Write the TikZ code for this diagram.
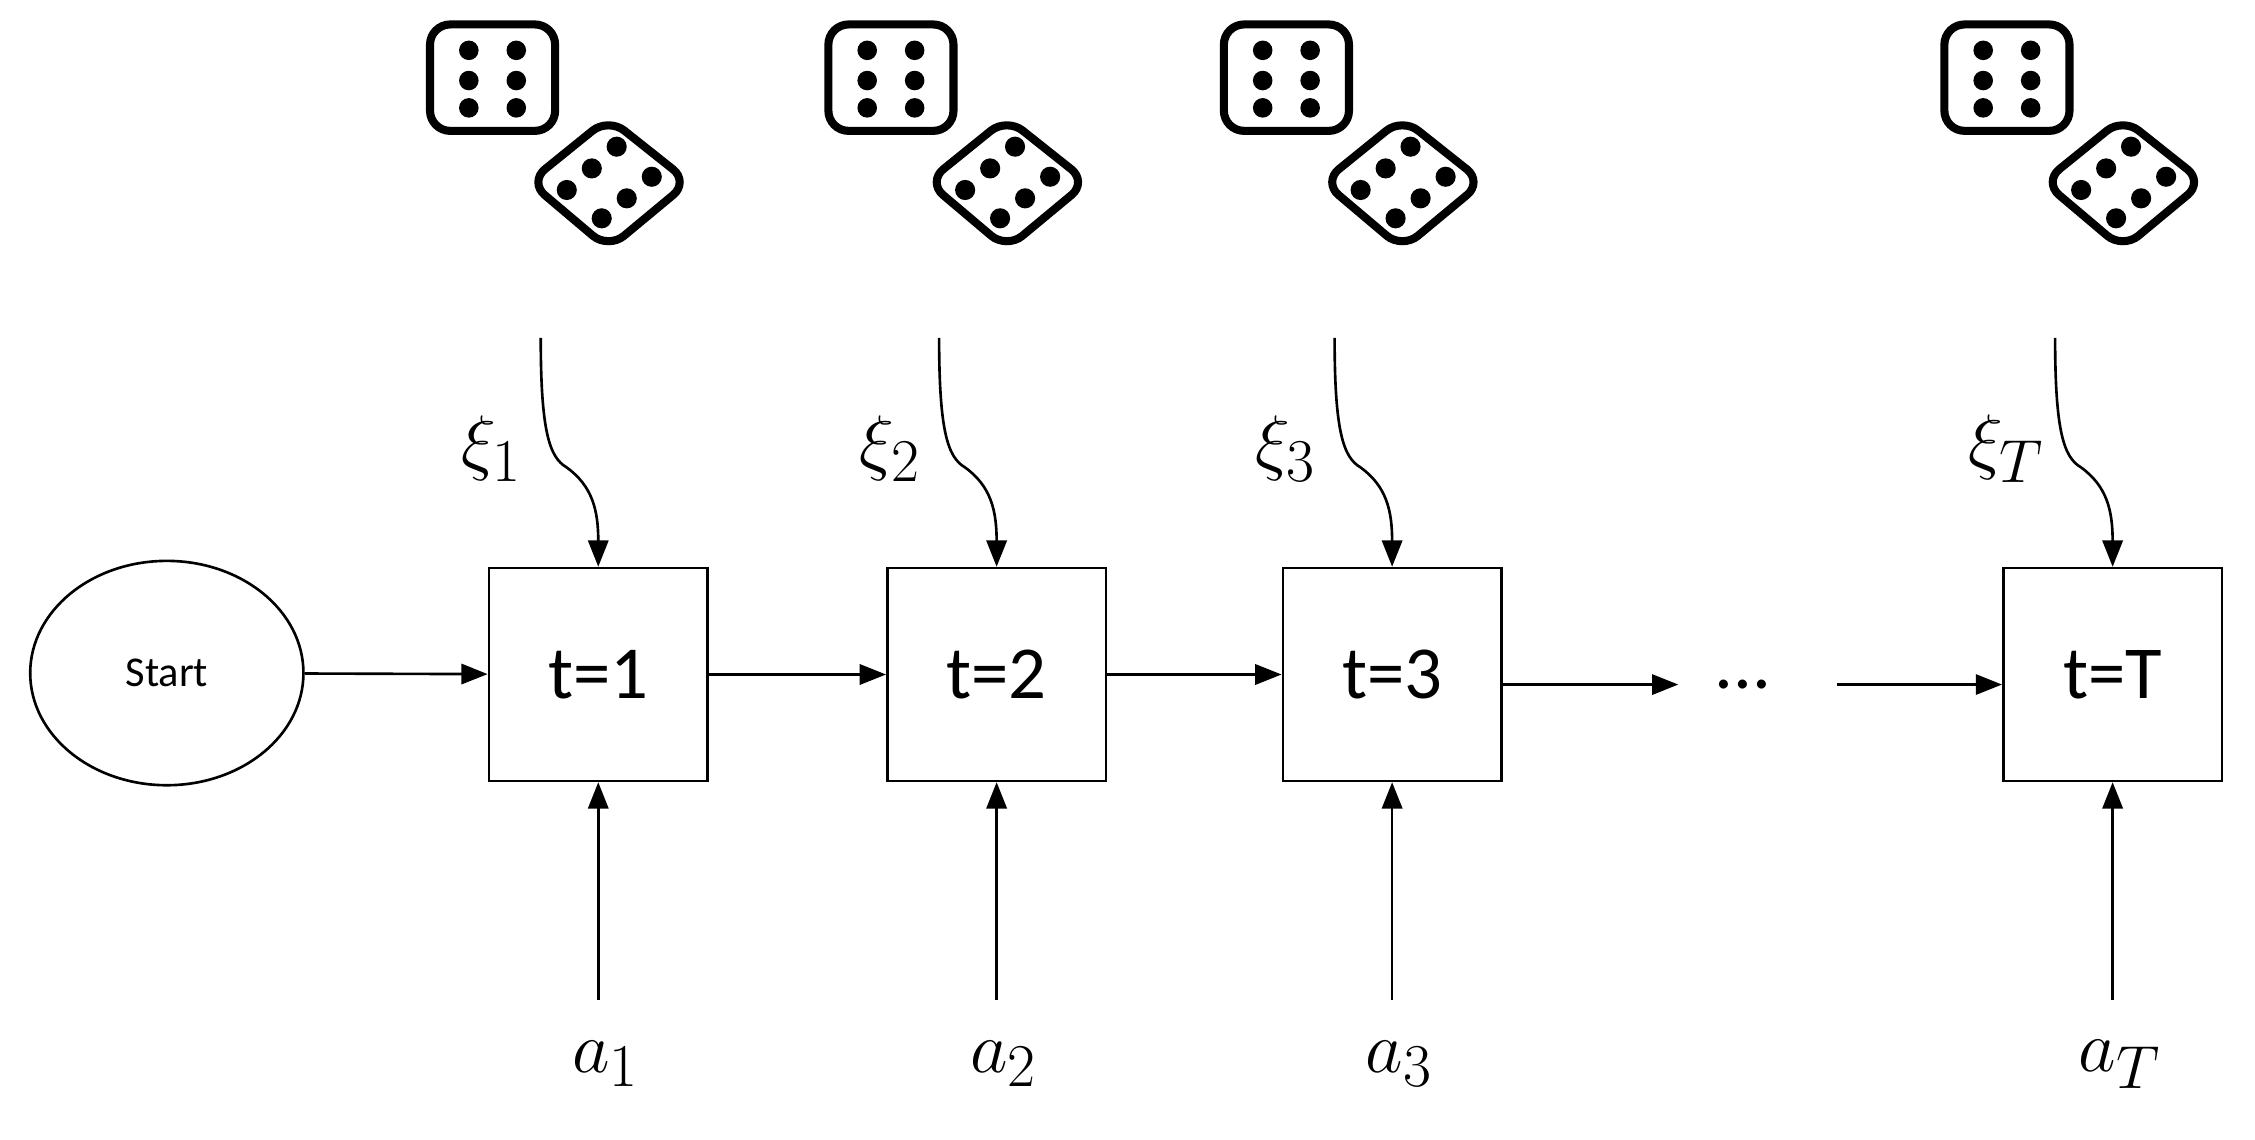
\documentclass[tikz,border=0pt]{standalone}
\usepackage{fontspec}
\setmainfont{Carlito}
\usetikzlibrary{arrows.meta,shapes.geometric}
\begin{document}
\begin{tikzpicture}[x=0.05cm,y=-0.05cm,
  box/.style={draw,line width=2.6pt,minimum width=152*0.05cm,minimum height=148*0.05cm,font=\fontsize{74}{80}\selectfont},
  arr/.style={line width=2.6pt,-{Triangle[length=26pt,width=20pt]}},
  lab/.style={font=\Huge,scale=2.9},
  die/.style={line width=8pt,rounded corners=20pt}]
\useasboundingbox (0,0) rectangle (1568,792);
\node[draw,line width=2.6pt,ellipse,minimum width=190*0.05cm,minimum height=156*0.05cm,inner sep=0,font=\fontsize{42}{48}\selectfont] (s) at (116,468) {Start};
\node[box] (b1) at (416,469) {t=1};
\node[box] (b2) at (693,469) {t=2};
\node[box] (b3) at (968,469) {t=3};
\node[box] (bT) at (1469,469) {t=T};
\node[font=\fontsize{74}{80}\selectfont] (dots) at (1212,476) {...};
\coordinate (d1) at (1167,476);
\coordinate (d2) at (1277,476);
\draw[arr] (s) -- (b1);
\draw[arr] (b1) -- (b2);
\draw[arr] (b2) -- (b3);
\draw[arr] (b3.east|-d1) -- (d1);
\draw[arr] (d2) -- (bT.west|-d2);
\foreach \n/\x/\i in {b1/0/1,b2/277/2,b3/552/3,bT/1053/T}{
  \coordinate (lo\n) at (416+\x,695);
  \draw[arr] (lo\n) -- (\n.south);
  \node[lab] (a\n) at (421+\x,740) {$a_{\i}$};
  \coordinate (hi\n) at (376+\x,235);
  \draw[arr] (hi\n) .. controls (376+\x,300) and (382+\x,318) .. (394+\x,325)
     .. controls (412+\x,338) and (416+\x,355) .. (\n.north);
  \node[lab] (x\n) at (342+\x,312) {$\xi_{\i}$};
  \begin{scope}[xshift=\x*0.05cm]
    \draw[die] (299,17) rectangle (386,91);
    \foreach \cx in {326,359}\foreach \cy in {35,56,75}\fill (\cx,\cy) circle (6.8);
    \draw[die] (423,82) -- (479,126.5) -- (423,173) -- (368,126.5) -- cycle;
    \foreach \p in {(428.8,102.0),(411.5,117.1),(394.1,132.1),(453.2,122.9),(435.8,137.9),(418.4,151.8)}\fill \p circle (7);
  \end{scope}
}
\end{tikzpicture}
\end{document}
